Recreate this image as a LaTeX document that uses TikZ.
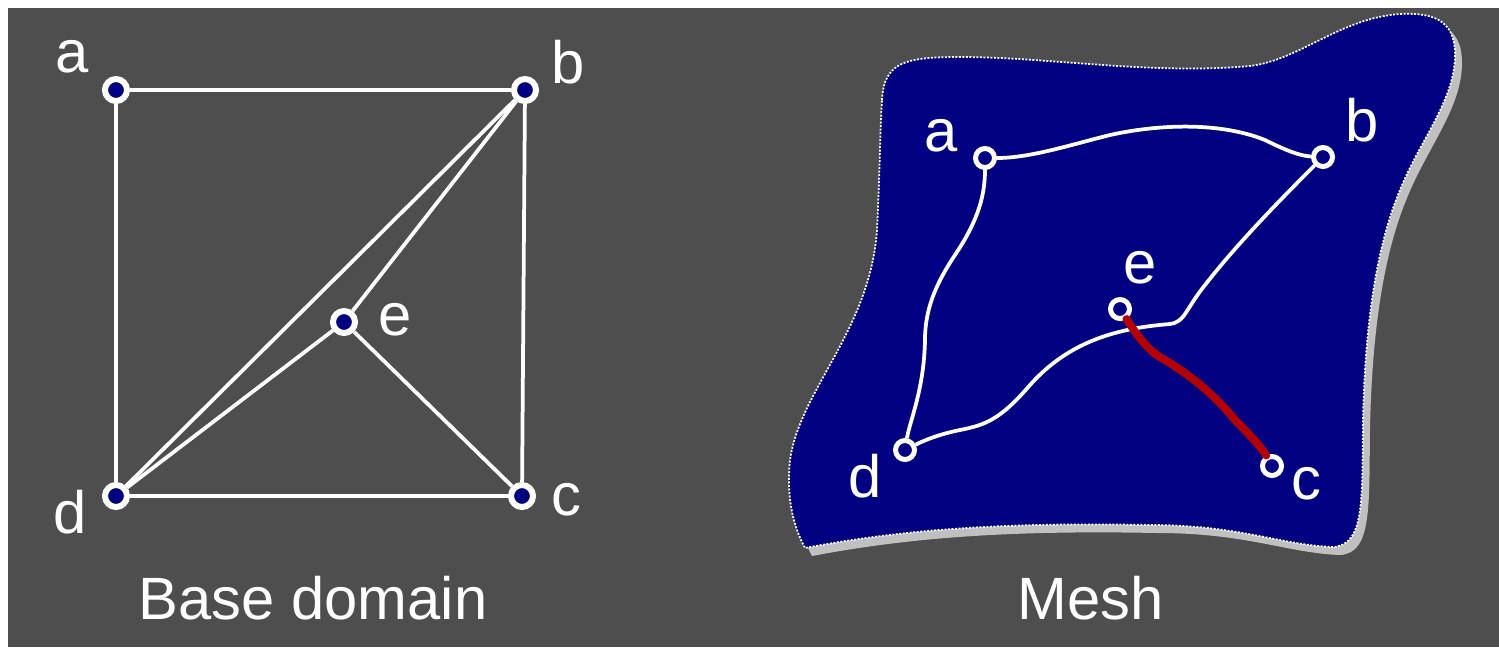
\documentclass[tikz,border=0pt]{standalone}
\usepackage{fontspec}
\setmainfont{Liberation Sans}
\usetikzlibrary{positioning}
\definecolor{bggray}{RGB}{78,78,78}
\definecolor{meshblue}{RGB}{0,0,128}
\definecolor{shadowgray}{RGB}{192,192,192}
\definecolor{cutred}{RGB}{180,0,0}

\begin{document}
\begin{tikzpicture}[
    x=0.02cm, y=-0.02cm,
    lbl/.style={text=white, inner sep=0pt, font=\fontsize{34}{40}\selectfont},
    vtx/.style={circle, draw=white, fill=meshblue, line width=0.12cm,
                minimum size=0.44cm, inner sep=0pt},
    mvtx/.style={circle, draw=white, fill=meshblue, line width=0.1cm,
                 minimum size=0.38cm, inner sep=0pt},
    edge/.style={draw=white, line width=0.075cm},
    cut/.style={draw=cutred, line width=0.16cm, line cap=round},
    blob/.style={insert path={(882,100) .. controls (884,62) and (905,57) .. (960,57)
        .. controls (1050,57) and (1150,75) .. (1250,66)
        .. controls (1300,60) and (1340,18) .. (1400,14)
        .. controls (1440,12) and (1455,25) .. (1455,55)
        .. controls (1455,100) and (1420,140) .. (1400,190)
        .. controls (1375,250) and (1365,330) .. (1363,420)
        .. controls (1362,500) and (1365,545) .. (1333,547)
        .. controls (1280,545) and (1240,525) .. (1150,525)
        .. controls (1000,522) and (900,530) .. (805,548)
        .. controls (790,520) and (787,490) .. (790,460)
        .. controls (800,390) and (870,330) .. (877,230)
        .. controls (880,170) and (880,130) .. (882,100) -- cycle}},
  ]
  % page and dark background
  \useasboundingbox (0,0) rectangle (1499,647);
  \fill[white] (0,0) rectangle (1499,647);
  \fill[bggray] (8,8) rectangle (1499,647);

  % base domain
  \node[vtx] (a) at (116,90) {};
  \node[vtx] (b) at (525,90) {};
  \node[vtx] (c) at (522,496) {};
  \node[vtx] (d) at (116,496) {};
  \node[vtx] (e) at (344,322) {};
  \draw[edge] (a) -- (b);
  \draw[edge] (a) -- (d);
  \draw[edge] (b) -- (c);
  \draw[edge] (d) -- (c);
  \draw[edge] (d) -- (b);
  \draw[edge] (d) -- (e);
  \draw[edge] (e) -- (b);
  \draw[edge] (e) -- (c);
  \node[lbl] (la) at (72,57) {a};
  \node[lbl] (lb) at (568,62) {b};
  \node[lbl] (lc) at (566,500) {c};
  \node[lbl] (ld) at (70,512) {d};
  \node[lbl] (le) at (395,320) {e};
  \node[lbl] (base) at (313,598) {Base domain};

  % mesh surface with its shadow
  \fill[shadowgray, shift={(7,8)}, blob];
  \fill[meshblue, blob];
  \draw[white, line width=0.035cm, dash pattern=on 0.04cm off 0.03cm, blob];

  \node[mvtx] (ma) at (985,158) {};
  \node[mvtx] (mb) at (1323,157) {};
  \node[mvtx] (mc) at (1272,466) {};
  \node[mvtx] (md) at (905,450) {};
  \node[mvtx] (me) at (1120,309) {};
  \draw[edge] (ma) .. controls (1030,158) and (1070,145) .. (1110,135)
    .. controls (1160,124) and (1220,122) .. (1265,140)
    .. controls (1285,150) and (1300,156) .. (mb);
  \draw[edge] (ma) .. controls (985,200) and (975,225) .. (955,255)
    .. controls (935,285) and (925,310) .. (925,340)
    .. controls (924,390) and (910,420) .. (md);
  \draw[edge] (mb) .. controls (1290,190) and (1240,240) .. (1205,285)
    .. controls (1185,310) and (1185,322) .. (1170,324)
    .. controls (1120,328) and (1070,340) .. (1030,385)
    .. controls (1000,420) and (985,425) .. (960,430)
    .. controls (940,434) and (925,440) .. (md);
  % the cut from e to c
  \draw[cut] (me) .. controls (1140,340) and (1150,352) .. (1165,360)
    .. controls (1190,375) and (1215,395) .. (1235,420)
    .. controls (1250,435) and (1262,448) .. (mc);
  \node[lbl] (lma) at (941,136) {a};
  \node[lbl] (lmb) at (1362,120) {b};
  \node[lbl] (lmc) at (1306,484) {c};
  \node[lbl] (lmd) at (865,476) {d};
  \node[lbl] (lme) at (1140,268) {e};
  \node[lbl] (mesh) at (1091,598) {Mesh};
\end{tikzpicture}
\end{document}
